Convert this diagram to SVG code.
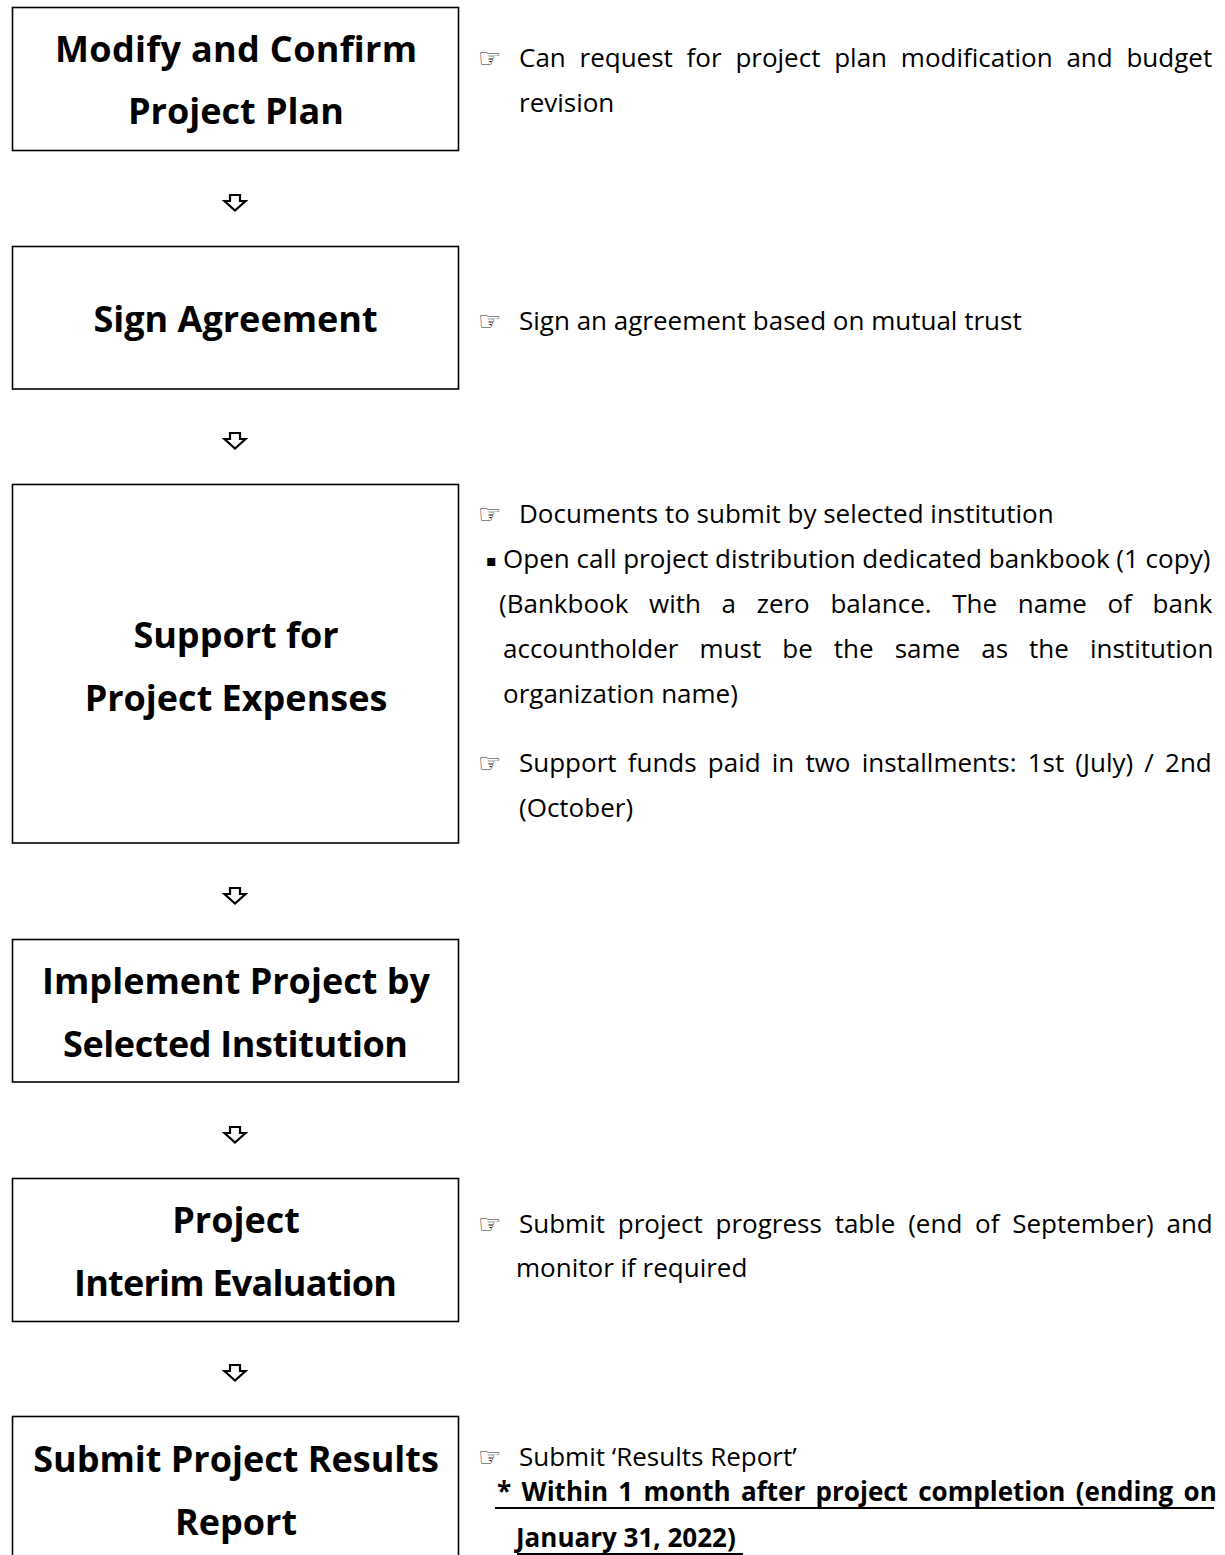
<svg xmlns="http://www.w3.org/2000/svg" width="1225" height="1555" viewBox="0 0 1225 1555">
  <style>
    .box { fill: #ffffff; stroke: #000000; stroke-width: 1.6; }
    .title { font-family: "Open Sans", "Noto Sans CJK KR", sans-serif; font-weight: 700; font-size: 36px; fill: #000000; text-anchor: middle; }
    .note { font-family: "Open Sans", "Noto Sans CJK KR", sans-serif; font-size: 26px; fill: #000000; }
    .strong { font-weight: 700; }
    .sym { font-family: "DejaVu Sans", sans-serif; font-size: 26px; fill: #2a2a2a; }
    .bullet { font-family: "DejaVu Sans", sans-serif; font-size: 16px; fill: #000000; }
    .uline { stroke: #000000; stroke-width: 2; }
    .flow { fill: #ffffff; stroke: #000000; stroke-width: 2.2; stroke-linejoin: miter; }
  </style>
  <defs>
    <!-- hollow down arrow between steps -->
    <path id="down" d="M -5 0 H 5 V 6 H 10.5 L 0 15.5 L -10.5 6 H -5 Z"/>
  </defs>

  <rect width="1225" height="1555" fill="#ffffff"/>

  <g id="connectors">
    <use href="#down" class="flow" x="235" y="195"/>
    <use href="#down" class="flow" x="235" y="433"/>
    <use href="#down" class="flow" x="235" y="888"/>
    <use href="#down" class="flow" x="235" y="1127"/>
    <use href="#down" class="flow" x="235" y="1365"/>
  </g>

  <g id="step-plan">
    <rect class="box" x="12.5" y="7.5" width="446" height="143"/>
    <text class="title" x="236" y="62" textLength="362" lengthAdjust="spacing">Modify and Confirm</text>
    <text class="title" x="236" y="124">Project Plan</text>
    <text class="sym" x="478" y="67">☞</text>
    <text class="note" x="519" y="67" word-spacing="7">Can request for project plan modification and budget</text>
    <text class="note" x="519" y="112">revision</text>
  </g>

  <g id="step-agreement">
    <rect class="box" x="12.5" y="246.5" width="446" height="142.5"/>
    <text class="title" x="235.5" y="332">Sign Agreement</text>
    <text class="sym" x="478" y="330">☞</text>
    <text class="note" x="519" y="330">Sign an agreement based on mutual trust</text>
  </g>

  <g id="step-expenses">
    <rect class="box" x="12.5" y="484.5" width="446" height="358.5"/>
    <text class="title" x="236" y="648">Support for</text>
    <text class="title" x="236" y="711">Project Expenses</text>
    <text class="sym" x="478" y="523">☞</text>
    <text class="note" x="519" y="523">Documents to submit by selected institution</text>
    <text class="bullet" x="486" y="566">▪</text>
    <text class="note" x="503" y="568">Open call project distribution dedicated bankbook (1 copy)</text>
    <text class="note" x="499" y="613" word-spacing="13.9">(Bankbook with a zero balance. The name of bank</text>
    <text class="note" x="503" y="658" word-spacing="14.3">accountholder must be the same as the institution</text>
    <text class="note" x="503" y="703">organization name)</text>
    <text class="sym" x="478" y="772">☞</text>
    <text class="note" x="519" y="772" word-spacing="4.4">Support funds paid in two installments: 1st (July) / 2nd</text>
    <text class="note" x="519" y="817">(October)</text>
  </g>

  <g id="step-implement">
    <rect class="box" x="12.5" y="939.5" width="446" height="142.5"/>
    <text class="title" x="236" y="994">Implement Project by</text>
    <text class="title" x="235.5" y="1057" textLength="345" lengthAdjust="spacing">Selected Institution</text>
  </g>

  <g id="step-interim">
    <rect class="box" x="12.5" y="1178.5" width="446" height="143"/>
    <text class="title" x="236" y="1233">Project</text>
    <text class="title" x="235.5" y="1296" textLength="323" lengthAdjust="spacing">Interim Evaluation</text>
    <text class="sym" x="478" y="1233">☞</text>
    <text class="note" x="519" y="1233" word-spacing="6">Submit project progress table (end of September) and</text>
    <text class="note" x="516" y="1277">monitor if required</text>
  </g>

  <g id="step-report">
    <rect class="box" x="12.5" y="1416.5" width="446" height="200"/>
    <text class="title" x="236" y="1472">Submit Project Results</text>
    <text class="title" x="236" y="1535">Report</text>
    <text class="sym" x="478" y="1466">☞</text>
    <text class="note" x="519" y="1466">Submit ‘Results Report’</text>
    <text class="note strong" x="497" y="1501" word-spacing="3.6">* Within 1 month after project completion (ending on</text>
    <line class="uline" x1="495" y1="1508" x2="1214" y2="1508"/>
    <text class="note strong" x="516" y="1547">January 31, 2022)</text>
    <line class="uline" x1="517" y1="1554" x2="743" y2="1554"/>
  </g>
</svg>
